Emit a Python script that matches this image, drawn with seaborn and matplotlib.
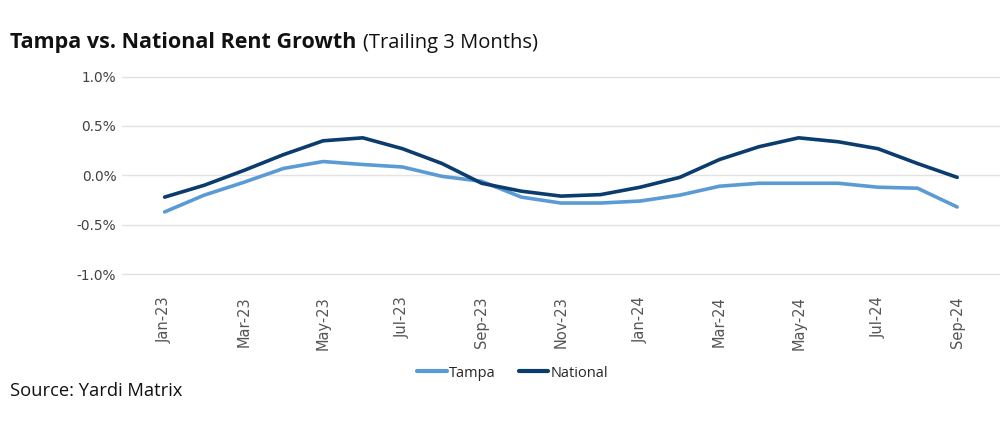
import matplotlib.pyplot as plt
import numpy as np
import pandas as pd
import seaborn as sns

sns.set_theme(style="white")
plt.rcParams['font.family'] = ['Open Sans', 'DejaVu Sans']

months = ['Jan-23', 'Feb-23', 'Mar-23', 'Apr-23', 'May-23', 'Jun-23', 'Jul-23',
          'Aug-23', 'Sep-23', 'Oct-23', 'Nov-23', 'Dec-23', 'Jan-24', 'Feb-24',
          'Mar-24', 'Apr-24', 'May-24', 'Jun-24', 'Jul-24', 'Aug-24', 'Sep-24']
tampa = [-0.37, -0.20, -0.07, 0.07, 0.14, 0.11, 0.085, -0.01, -0.06, -0.22, -0.28,
         -0.28, -0.26, -0.20, -0.11, -0.08, -0.08, -0.08, -0.12, -0.13, -0.32]
national = [-0.22, -0.10, 0.05, 0.21, 0.35, 0.38, 0.27, 0.12, -0.08, -0.16, -0.21,
            -0.195, -0.12, -0.02, 0.16, 0.29, 0.38, 0.34, 0.27, 0.12, -0.02]

df = pd.DataFrame({'month': months, 'Tampa': tampa, 'National': national})
long = df.melt(id_vars='month', var_name='series', value_name='growth')
long['pos'] = long.groupby('series').cumcount()

fig = plt.figure(figsize=(10.07, 4.33), dpi=100)
ax = fig.add_axes([0.121, 0.36, 0.872, 0.47])

sns.lineplot(data=long, x='pos', y='growth', hue='series',
             palette={'Tampa': '#5b9bd5', 'National': '#0b3c6e'},
             linewidth=2.6, ax=ax, legend=True)

ax.set_xlim(-1.08, 21.08)
ax.set_ylim(-1.03, 1.03)
ax.set_yticks([-1.0, -0.5, 0.0, 0.5, 1.0])
ax.set_yticklabels(['-1.0%', '-0.5%', '0.0%', '0.5%', '1.0%'], fontsize=9.8,
                   color='#404040', family='DejaVu Sans')
ax.set_xticks(range(0, 21, 2))
ax.set_xticklabels(months[::2], rotation=90, fontsize=10.5, color='#555555',
                   family='DejaVu Sans')
ax.tick_params(axis='x', pad=14, length=0)
ax.tick_params(axis='y', pad=4, length=0)
ax.grid(axis='y', color='#e3e3e3', linewidth=1)
ax.set_xlabel('')
ax.set_ylabel('')
sns.despine(ax=ax, left=True, bottom=True)

leg = ax.legend(loc='upper center', bbox_to_anchor=(0.445, -0.37), ncol=2,
                frameon=False, fontsize=10.5, handlelength=2.0, columnspacing=1.6,
                handletextpad=0.15)
for line in leg.get_lines():
    line.set_linewidth(3)

t1 = fig.text(0.01, 0.89, 'Tampa vs. National Rent Growth', fontsize=15.5,
              fontweight='bold', color='#111111')
fig.canvas.draw()
bb = t1.get_window_extent()
fig.text((bb.x1 + 7) / fig.bbox.width, 0.89, '(Trailing 3 Months)', fontsize=14.5,
         color='#111111')
fig.text(0.01, 0.085, 'Source: Yardi Matrix', fontsize=13.2, color='#111111')

fig.savefig('out.png', dpi=100)
